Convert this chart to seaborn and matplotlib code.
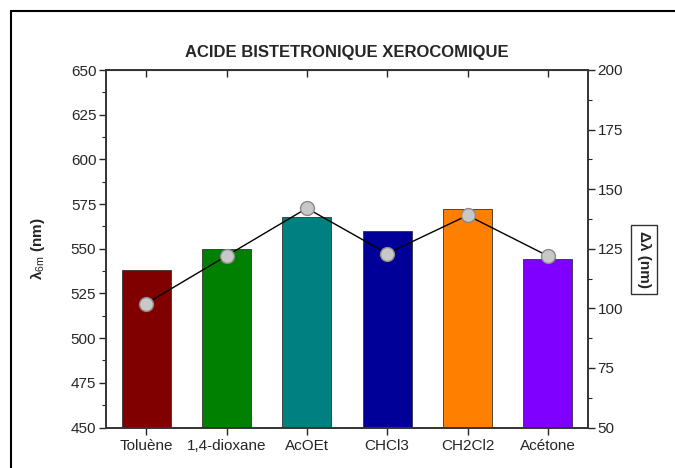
import numpy as np
import pandas as pd
import seaborn as sns
import matplotlib.pyplot as plt
from matplotlib.patches import Rectangle
from matplotlib.ticker import MultipleLocator

# data
solvents = ['Toluène', '1,4-dioxane', 'AcOEt', 'CHCl3', 'CH2Cl2', 'Acétone']
lambda_em = [538, 550, 568, 560, 572, 544]
delta_lambda = [102, 122, 142, 123, 139, 122]
bar_colors = ['#800000', '#008000', '#008080', '#000099', '#ff8000', '#8000ff']

df = pd.DataFrame({'solvent': solvents, 'lambda_em': lambda_em, 'delta': delta_lambda})

sns.set_style('white')
plt.rcParams['font.family'] = ['Liberation Sans', 'DejaVu Sans']
plt.rcParams['mathtext.fontset'] = 'custom'
plt.rcParams['mathtext.rm'] = 'Liberation Sans'

fig = plt.figure(figsize=(6.75, 4.68), dpi=100)
ax = fig.add_axes([106 / 675, 1 - 427.5 / 468, 482 / 675, 357.5 / 468])

# bars
sns.barplot(data=df, x='solvent', y='lambda_em', hue='solvent', palette=bar_colors,
            width=0.61, edgecolor='#333333', linewidth=0.6, saturation=1,
            legend=False, ax=ax)
ax.set_ylim(450, 650)
ax.set_xlim(-0.5, 5.5)
ax.yaxis.set_major_locator(MultipleLocator(25))
ax.yaxis.set_minor_locator(MultipleLocator(12.5))
ax.set_xlabel('')
ax.set_ylabel('λ$_{\\mathrm{6m}}$ (nm)', fontsize=11, fontweight='bold')
ax.yaxis.set_label_coords(-0.122, 0.5)
ax.tick_params(axis='y', which='major', direction='out', length=5, width=1,
               left=True, right=False, labelsize=11, pad=2)
ax.tick_params(axis='y', which='minor', direction='out', length=3, width=0.8,
               left=True, right=False)
ax.tick_params(axis='x', which='major', direction='out', length=5, width=1,
               bottom=True, top=False, labelsize=11, pad=3)

# top ticks pointing inwards
top = ax.secondary_xaxis('top')
top.set_xticks(range(len(solvents)))
top.tick_params(direction='in', length=5, width=1, labeltop=False)

# delta lambda line on right axis
ax2 = ax.twinx()
sns.lineplot(data=df, x='solvent', y='delta', ax=ax2, sort=False, color='black',
             linewidth=1, marker='o', markersize=10, markerfacecolor='#c8c8c8',
             markeredgecolor='#8a8a8a', markeredgewidth=1)
ax2.set_ylim(50, 200)
ax2.set_xlim(-0.5, 5.5)
ax2.yaxis.set_major_locator(MultipleLocator(25))
ax2.yaxis.set_minor_locator(MultipleLocator(12.5))
ax2.tick_params(axis='y', which='major', direction='out', length=5, width=1,
                right=True, labelsize=11, pad=2)
ax2.tick_params(axis='y', which='minor', direction='out', length=3, width=0.8, right=True)
ax2.set_xlabel('')
ax2.set_ylabel('Δλ (nm)', fontsize=11, fontweight='bold', rotation=270,
               bbox=dict(boxstyle='square,pad=0.4', facecolor='white',
                         edgecolor='#333333', linewidth=1))
ax2.yaxis.set_label_coords(1.131, 0.47)

for a in (ax, ax2):
    for s in a.spines.values():
        s.set_visible(True)
        s.set_color('#333333')
        s.set_linewidth(1.2)

ax.set_title('ACIDE BISTETRONIQUE XEROCOMIQUE', fontsize=12, fontweight='bold', pad=9)

# frame around the figure
fig.patches.append(Rectangle((11 / 675, -0.05), 1.0, 1 - 11 / 468 + 0.05,
                             transform=fig.transFigure, fill=False,
                             edgecolor='black', linewidth=1.5))

fig.savefig('out.png', dpi=100)
